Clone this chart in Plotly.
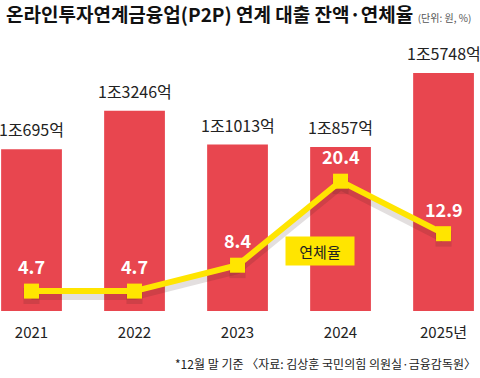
import plotly.graph_objects as go

years = ["2021", "2022", "2023", "2024", "2025년"]
balance = [10695, 13246, 11013, 10857, 15748]  # 억 원
balance_labels = ["1조695억", "1조3246억", "1조1013억", "1조857억", "1조5748억"]
delinquency = [4.7, 4.7, 8.4, 20.4, 12.9]  # %

FONT = "Noto Sans CJK KR"
NARROW = "Liberation Sans Narrow, Noto Sans CJK KR"
RED = "#E8464F"
YEL = "#FFE500"

Y2 = [1.857, 40.57]
SH = 0.7  # shadow offset in axis units

fig = go.Figure()
fig.add_trace(go.Bar(x=years, y=balance, marker_color=RED, width=0.59,
                     marker_line_width=0, hoverinfo="skip"))
# soft shadow of the line
fig.add_trace(go.Scatter(x=years, y=delinquency, yaxis="y2", mode="lines+markers",
                         line=dict(color="rgba(60,30,30,0.14)", width=8),
                         marker=dict(symbol="square", size=16, color="rgba(60,30,30,0.14)"),
                         hoverinfo="skip"))
fig.add_trace(go.Scatter(x=years, y=delinquency, yaxis="y3", mode="lines+markers",
                         line=dict(color=YEL, width=6),
                         marker=dict(symbol="square", size=15, color=YEL),
                         hoverinfo="skip"))

for i, (v, t) in enumerate(zip(balance, balance_labels)):
    fig.add_annotation(x=i, y=v, xref="x", yref="y", text=t, showarrow=False,
                       yanchor="bottom", yshift=6,
                       font=dict(family=NARROW, size=16, color="#222"))
for i, v in enumerate(delinquency):
    fig.add_annotation(x=i, y=v, xref="x", yref="y3", text=f"<b>{v}</b>", showarrow=False,
                       yanchor="bottom", yshift=10,
                       font=dict(family=NARROW, size=18, color="white"))

fig.add_annotation(x=2.8, y=10.43, xref="x", yref="y3", text="연체율", showarrow=False,
                   bgcolor=YEL, width=66, height=26,
                   font=dict(family=FONT, size=15, color="#222"))

fig.add_annotation(x=0.008, y=1.097, xref="paper", yref="paper", xanchor="left",
                   yanchor="middle", showarrow=False,
                   text="<b>온라인투자연계금융업(P2P) 연계 대출 잔액·연체율</b>"
                        "<span style='font-size:10px;color:#555'>  (단위: 원, %)</span>",
                   font=dict(family=FONT, size=19, color="#111"))
fig.add_annotation(x=0.996, y=-0.192, xref="paper", yref="paper", xanchor="right",
                   yanchor="middle", showarrow=False,
                   text="*12월 말 기준 〈자료: 김상훈 국민의힘 의원실·금융감독원〉",
                   font=dict(family=FONT, size=12, color="#222"))

fig.update_layout(
    width=480, height=378, margin=dict(l=0, r=0, t=40, b=67),
    paper_bgcolor="white", plot_bgcolor="white", showlegend=False,
    xaxis=dict(type="category", range=[-0.306, 4.354], showgrid=False, zeroline=False,
               showline=False, ticks="outside", ticklen=8, tickcolor="rgba(0,0,0,0)",
               tickfont=dict(family=NARROW, size=15, color="#222")),
    yaxis=dict(range=[0, 17932], visible=False, showgrid=False),
    yaxis2=dict(range=[Y2[0] + SH, Y2[1] + SH], overlaying="y", visible=False, showgrid=False),
    yaxis3=dict(range=Y2, overlaying="y", visible=False, showgrid=False),
)

fig.write_html("out.html", config={"displayModeBar": False},
               post_script="document.body.style.margin='0';document.body.style.overflow='hidden';")
